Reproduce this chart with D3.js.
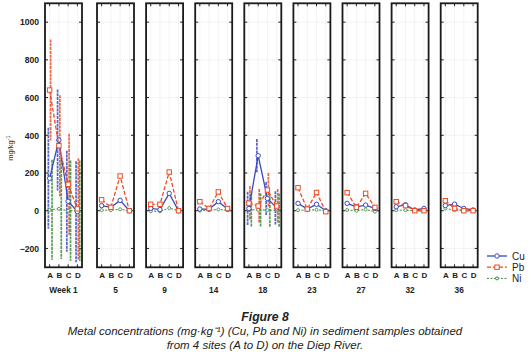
<!DOCTYPE html>
<html><head><meta charset="utf-8">
<script src="https://cdn.jsdelivr.net/npm/d3@7"></script>
<style>body{margin:0;background:#fff}svg{display:block;font-family:Arial,"Liberation Sans",sans-serif}</style>
</head><body><svg id="c" width="531" height="359"></svg>
<script>
const weeks = ["Week 1","5","9","14","18","23","27","32","36"];
const sites = ["A","B","C","D"];
const series = ["Cu","Pb","Ni"];
const cu = [[172,375,50,-5],[27,18,55,0],[12,6,92,0],[9,9,48,9],[12,292,65,15],[39,9,34,0],[39,21,30,12],[21,32,4,12],[27,35,12,4]];
const pb = [[640,345,140,10],[58,18,184,0],[34,34,205,0],[48,12,100,12],[40,25,110,25],[122,9,97,-5],[96,18,92,18],[48,27,0,0],[53,12,0,0]];
const ni = [[5,10,0,0],[3,3,8,0],[-3,-3,14,0],[0,3,7,3],[5,5,3,3],[3,3,5,0],[4,0,7,-5],[3,3,0,0],[12,3,3,0]];
// error half-widths per week (0 = no error bars)
const cuErr = [268,0,0,0,88,0,0,0,0];
const pbErr = [268,0,0,0,90,0,0,0,0];
const niErr = [266,0,0,0,88,0,0,0,0];
const yTicks = [-200,0,200,400,600,800,1000];
const captionTitle = "Figure 8";
const captionLines = ["Metal concentrations (mg·kg\u207B\u00B9) (Cu, Pb and Ni) in sediment samples obtained","from 4 sites (A to D) on the Diep River."];

const svg = d3.select("#c");
const colors = {Cu:"#3a4bbf", Pb:"#f04a24", Ni:"#3d8c3d"};
const dash = {Cu:null, Pb:"4,2", Ni:"2,1.5"};
const data = {Cu:cu, Pb:pb, Ni:ni};
const errs = {Cu:cuErr, Pb:pbErr, Ni:niErr};
const off = {Cu:-1.3, Pb:1, Ni:2.4};

const pTop = 3.3, pBot = 267.3, pw = 37;
const y = d3.scaleLinear().domain([-300,1100]).range([pBot, pTop]);
const panelLeft = weeks.map((w,i)=> i===0 ? 45 : 97 + (i-1)*49.1);

// y axis labels
const yax = svg.append("g").attr("transform",`translate(${panelLeft[0]},0)`)
  .call(d3.axisLeft(y).tickValues(yTicks).tickSize(0).tickPadding(6).tickFormat(d3.format("d")));
yax.select(".domain").remove();
yax.selectAll("text").attr("font-size",8.6).attr("font-weight","bold").attr("fill","#222");

// y title
const yt = svg.append("text").attr("transform","translate(13,148) rotate(-90)").attr("text-anchor","middle")
  .attr("font-size",7.5).attr("fill","#222");
yt.append("tspan").text("mg/kg");
yt.append("tspan").attr("dy",-3).attr("font-size",5.5).text("-1");

weeks.forEach((wk,i)=>{
  const x = d3.scalePoint().domain(sites).range([panelLeft[i], panelLeft[i]+pw]).padding(0.5);
  const g = svg.append("g");
  // grid
  g.selectAll(".hg").data(yTicks).join("line")
    .attr("x1",panelLeft[i]).attr("x2",panelLeft[i]+pw).attr("y1",d=>y(d)).attr("y2",d=>y(d))
    .attr("stroke","#d8d8d8").attr("stroke-width",0.6).attr("stroke-dasharray","1,1");
  g.selectAll(".vg").data(sites).join("line")
    .attr("x1",d=>x(d)).attr("x2",d=>x(d)).attr("y1",pTop).attr("y2",pBot)
    .attr("stroke","#d8d8d8").attr("stroke-width",0.6).attr("stroke-dasharray","1,1");
  // inward ticks
  g.selectAll(".tl").data(yTicks).join("line")
    .attr("x1",panelLeft[i]).attr("x2",panelLeft[i]+3).attr("y1",d=>y(d)).attr("y2",d=>y(d)).attr("stroke","#222").attr("stroke-width",1);
  g.selectAll(".tr").data(yTicks).join("line")
    .attr("x1",panelLeft[i]+pw-3).attr("x2",panelLeft[i]+pw).attr("y1",d=>y(d)).attr("y2",d=>y(d)).attr("stroke","#222").attr("stroke-width",1);
  g.selectAll(".tt").data(sites).join("line")
    .attr("x1",d=>x(d)).attr("x2",d=>x(d)).attr("y1",pTop).attr("y2",pTop+3).attr("stroke","#222").attr("stroke-width",1);
  g.selectAll(".tb").data(sites).join("line")
    .attr("x1",d=>x(d)).attr("x2",d=>x(d)).attr("y1",pBot-3).attr("y2",pBot).attr("stroke","#222").attr("stroke-width",1);

  // error bars
  series.forEach(s=>{
    const e = errs[s][i];
    if(!e) return;
    g.selectAll(".eb"+s).data(data[s][i]).join("line")
      .attr("x1",(d,j)=>x(sites[j])+off[s]).attr("x2",(d,j)=>x(sites[j])+off[s])
      .attr("y1",d=>y(d+e)).attr("y2",d=>y(d-e))
      .attr("stroke",colors[s]).attr("stroke-width",1.7).attr("stroke-dasharray","3,0.8").attr("opacity",0.85);
  });
  // lines and markers
  ["Ni","Cu","Pb"].forEach(s=>{
    const vals = data[s][i];
    const line = d3.line().x((d,j)=>x(sites[j])).y(d=>y(d));
    g.append("path").datum(vals).attr("d",line).attr("fill","none").attr("stroke",colors[s])
      .attr("stroke-width",s==="Ni"?1:1.3).attr("stroke-dasharray",dash[s]);
    if(s==="Pb"){
      g.selectAll(".m"+s).data(vals).join("rect")
        .attr("x",(d,j)=>x(sites[j])-2.2).attr("y",d=>y(d)-2.2).attr("width",4.4).attr("height",4.4)
        .attr("fill","#fff").attr("stroke",colors[s]).attr("stroke-width",1);
    } else {
      g.selectAll(".m"+s).data(vals).join("circle")
        .attr("cx",(d,j)=>x(sites[j])).attr("cy",d=>y(d)).attr("r",s==="Cu"?2.2:1.5)
        .attr("fill","#fff").attr("stroke",colors[s]).attr("stroke-width",s==="Cu"?1:0.8);
    }
  });
  // frame
  g.append("rect").attr("x",panelLeft[i]).attr("y",pTop).attr("width",pw).attr("height",pBot-pTop)
    .attr("fill","none").attr("stroke","#1a1a1a").attr("stroke-width",1.8);
  // x labels
  const xa = g.append("g").attr("transform",`translate(0,${pBot})`).call(d3.axisBottom(x).tickSize(0).tickPadding(5));
  xa.select(".domain").remove();
  xa.selectAll("text").attr("font-size",8).attr("font-weight","bold").attr("fill","#222").attr("font-family","Arial,'Liberation Sans',sans-serif");
  g.append("text").attr("x",panelLeft[i]+pw/2).attr("y",292.5).attr("text-anchor","middle")
    .attr("font-size",8.3).attr("font-weight","bold").attr("fill","#222").text(wk);
});

// legend
const lg = svg.append("g");
series.forEach((s,k)=>{
  const ly = 256 + k*11.2;
  lg.append("line").attr("x1",487).attr("x2",507).attr("y1",ly).attr("y2",ly).attr("stroke",colors[s])
    .attr("stroke-width",s==="Ni"?1:1.3).attr("stroke-dasharray",dash[s]);
  if(s==="Pb") lg.append("rect").attr("x",494.8).attr("y",ly-2.2).attr("width",4.4).attr("height",4.4).attr("fill","#fff").attr("stroke",colors[s]);
  else lg.append("circle").attr("cx",497).attr("cy",ly).attr("r",s==="Cu"?2.2:1.5).attr("fill","#fff").attr("stroke",colors[s]);
  lg.append("text").attr("x",512).attr("y",ly+3.5).attr("font-size",10).attr("fill","#222").text(s);
});

// caption
svg.append("text").attr("x",265).attr("y",320.5).attr("text-anchor","middle").attr("font-size",12.2)
  .attr("font-weight","bold").attr("font-style","italic").attr("fill","#222").text(captionTitle);
captionLines.forEach((t,k)=>{
  svg.append("text").attr("x",265).attr("y",335+k*13.5).attr("text-anchor","middle").attr("font-size",11.5)
    .attr("font-style","italic").attr("fill","#222").text(t);
});
</script></body></html>
